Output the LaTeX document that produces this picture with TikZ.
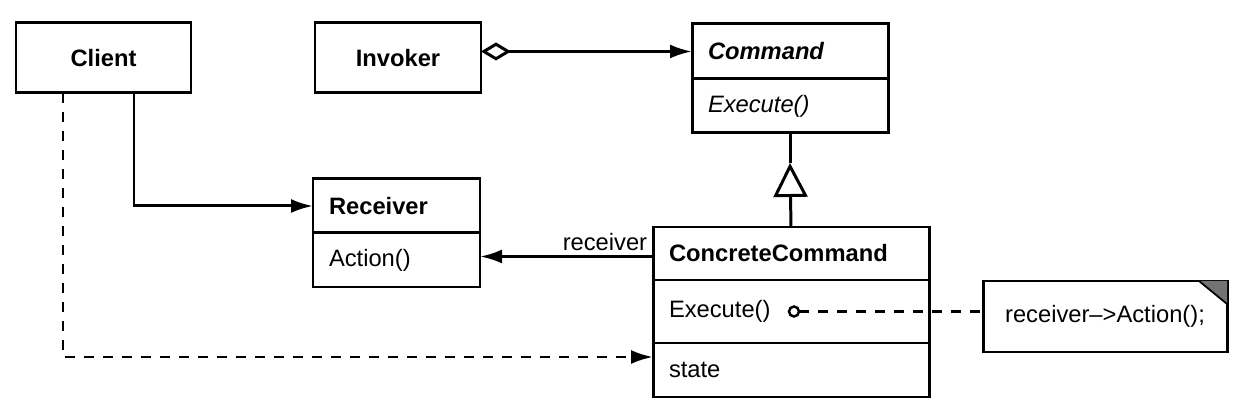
\documentclass[tikz,border=0pt]{standalone}
\usepackage{fontspec}
\setmainfont{Liberation Sans}
\usetikzlibrary{positioning, arrows.meta}

\begin{document}
\begin{tikzpicture}[
        font=\fontsize{13.5}{16}\selectfont,
        every node/.style={outer sep=0pt},
        classbox/.style={draw, line width=1.7pt, rectangle, minimum height=1.4cm, align=center},
        classpart/.style={draw, line width=1.7pt, rectangle, inner xsep=0.32cm, inner ysep=0pt, align=left},
        notebox/.style={draw, line width=1.7pt, rectangle, minimum width=4.88cm, minimum height=1.42cm, align=center},
        dot/.style={draw, circle, line width=1.4pt, inner sep=0pt, minimum size=0.2cm},
        assoc/.style={-{Latex[length=0.44cm, width=0.28cm]}, line width=1.7pt},
        aggr/.style={{Diamond[open, length=0.6cm, width=0.36cm]}-{Latex[length=0.44cm, width=0.28cm]}, line width=1.7pt},
        inherit/.style={-{Triangle[open, length=0.68cm, width=0.68cm]}, line width=1.7pt},
        depline/.style={line width=1.7pt, dash pattern=on 0.2cm off 0.18cm}
    ]
    \useasboundingbox (0,0) rectangle (25.02,-8.24);

    % participants
    \node[classbox, minimum width=3.5cm] (Client) at (2.07,-1.16) {\bfseries Client};
    \node[classbox, minimum width=3.32cm] (Invoker) at (7.96,-1.16) {\bfseries Invoker};

    % Command
    \node[classpart, minimum height=1.1cm, text width=3.28cm] (CmdName) at (15.80,-1.03) {\bfseries\itshape Command};
    \node[classpart, minimum height=1.08cm, text width=3.28cm, below=0pt of CmdName] (CmdOps) {\itshape Execute()};

    % Receiver
    \node[classpart, minimum height=1.08cm, text width=2.70cm] (RcvName) at (7.93,-4.12) {\bfseries Receiver};
    \node[classpart, minimum height=1.08cm, text width=2.70cm, below=0pt of RcvName] (RcvOps) {Action()};

    % ConcreteCommand
    \node[classpart, minimum height=1.06cm, text width=4.88cm] (CCName) at (15.82,-5.07) {\bfseries ConcreteCommand};
    \node[classpart, minimum height=1.26cm, text width=4.88cm, below=0pt of CCName] (CCOps) {Execute()};
    \node[classpart, minimum height=1.08cm, text width=4.88cm, below=0pt of CCOps] (CCState) {state};

    % note
    \node[notebox] (Note) at (22.10,-6.33) {receiver\textendash>Action();};
    \fill[black!55] ([xshift=-0.56cm]Note.north east) -- (Note.north east) -- ([yshift=-0.46cm]Note.north east) -- cycle;
    \draw[line width=1pt] ([xshift=-0.56cm]Note.north east) -- ([yshift=-0.46cm]Note.north east);

    \node[dot] (ExecDot) at ([xshift=2.82cm]CCOps.west) {};
    \coordinate (Apex) at ([yshift=-0.6cm]CmdOps.south);

    \draw[aggr] (Invoker.east |- CmdName.west) -- (CmdName.west);
    \draw[assoc] ([xshift=0.61cm]Client.south) |- (RcvName.west);
    \draw[assoc, depline] ([xshift=-0.81cm]Client.south) |- ([yshift=0.26cm]CCState.west);
    \draw[assoc] ([yshift=-0.06cm]CCName.west) -- node[at start, above left] {receiver} ([yshift=-0.06cm]CCName.west -| RcvOps.east);
    \draw[inherit] (CCName.north) -- (Apex);
    \draw[line width=1.7pt] (Apex) -- (CmdOps.south);
    \draw[depline] (ExecDot) -- (ExecDot -| Note.west);

\end{tikzpicture}
\end{document}
